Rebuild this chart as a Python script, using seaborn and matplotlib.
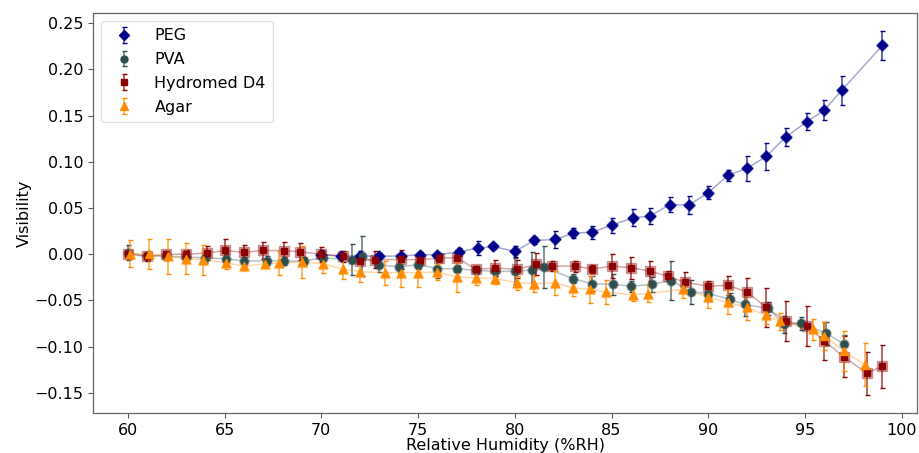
import matplotlib
matplotlib.use("Agg")
import matplotlib.pyplot as plt
import seaborn as sns
import pandas as pd

# Relative humidity (%RH), visibility and its uncertainty for each coating
peg_rh = [70, 71, 72, 73, 74.1, 75.1, 76, 77.1, 78.1, 78.9, 80, 81, 82.1, 83, 84, 85,
          86.1, 87, 88, 89, 90, 91, 92, 93, 94, 95.1, 96, 96.9, 99]
peg_vis = [-0.0005, -0.002, -0.002, -0.002, -0.002, -0.0005, -0.0005, 0.0024, 0.0067,
           0.0084, 0.003, 0.0149, 0.016, 0.0228, 0.0239, 0.0314, 0.0393, 0.0415, 0.0535,
           0.0533, 0.0666, 0.0853, 0.093, 0.106, 0.1269, 0.1435, 0.156, 0.1775, 0.226]
peg_err = [0.005, 0.003, 0.005, 0.003, 0.003, 0.003, 0.003, 0.0043, 0.0072, 0.003,
           0.0063, 0.004, 0.0096, 0.0054, 0.0069, 0.008, 0.0092, 0.0088, 0.008, 0.0099,
           0.0069, 0.0063, 0.0135, 0.0148, 0.0098, 0.0094, 0.011, 0.0157, 0.0155]

pva_rh = [60, 61, 62, 63, 64, 65.1, 66, 67.2, 68.1, 69.1, 70.1, 71.6, 72.1, 73, 74, 75,
          76, 77, 78, 79, 80, 80.9, 81.5, 83, 84, 85.1, 86, 87.1, 88.1, 89.1, 90, 91.1,
          91.9, 93.1, 93.9, 94.8, 96.1, 97]
pva_vis = [0.0016, -0.002, -0.002, -0.003, -0.004, -0.0048, -0.0074, -0.007, -0.0074,
           -0.0074, -0.004, -0.006, -0.002, -0.0113, -0.0138, -0.0113, -0.0156, -0.0156,
           -0.0175, -0.0185, -0.0185, -0.017, -0.0138, -0.0264, -0.032, -0.0325, -0.0347,
           -0.0325, -0.0285, -0.0405, -0.0425, -0.0487, -0.0544, -0.0587, -0.0758,
           -0.0749, -0.0856, -0.0971]
pva_err = [0.008, 0.004, 0.004, 0.005, 0.005, 0.005, 0.004, 0.005, 0.004, 0.004, 0.008,
           0.017, 0.022, 0.008, 0.011, 0.005, 0.01, 0.004, 0.004, 0.005, 0.014, 0.019,
           0.0226, 0.005, 0.008, 0.0115, 0.006, 0.008, 0.0215, 0.013, 0.005, 0.007,
           0.0126, 0.007, 0.009, 0.007, 0.0126, 0.01]

hyd_rh = [60, 61, 62, 63, 64.1, 65, 66, 67, 68.1, 68.9, 70, 71.1, 72, 72.8, 74.1, 75.1,
          76.1, 77, 78, 79, 80.1, 81.1, 81.9, 83.1, 84, 85, 86, 87, 87.9, 88.8, 90, 91,
          92, 93, 94, 95.1, 96, 97, 98.2, 99]
hyd_vis = [0.0, -0.0024, 0.0, 0.0, 0.0013, 0.0041, 0.002, 0.0041, 0.004, 0.0027, 0.0,
           -0.002, -0.007, -0.006, -0.0056, -0.006, -0.0041, -0.0038, -0.0163, -0.015,
           -0.0163, -0.011, -0.0128, -0.0128, -0.016, -0.0128, -0.0146, -0.0182, -0.0239,
           -0.0303, -0.0347, -0.0336, -0.0407, -0.0576, -0.0723, -0.0777, -0.0939,
           -0.111, -0.1287, -0.1215]
hyd_err = [0.004, 0.005, 0.004, 0.005, 0.008, 0.012, 0.008, 0.009, 0.009, 0.009, 0.008,
           0.006, 0.004, 0.0094, 0.01, 0.005, 0.0045, 0.0086, 0.0041, 0.0086, 0.0099,
           0.012, 0.0055, 0.006, 0.004, 0.0126, 0.012, 0.0108, 0.0054, 0.0116, 0.006,
           0.0104, 0.0154, 0.0214, 0.0212, 0.0215, 0.0209, 0.0224, 0.0233, 0.023]

agar_rh = [60.1, 61.1, 62.1, 63, 63.9, 65.1, 66, 67.1, 67.8, 69, 70.1, 71.1, 72, 73.3,
           74.1, 75, 76, 77, 78, 79, 80.1, 81, 82.1, 83, 83.9, 84.7, 86.1, 86.9, 88.7,
           90, 91, 92, 93, 93.7, 95.4, 96, 97, 98.1]
agar_vis = [0.0005, 0.0005, -0.0024, -0.0048, -0.006, -0.0092, -0.013, -0.0102, -0.0095,
            -0.0084, -0.0102, -0.016, -0.019, -0.02, -0.0199, -0.0199, -0.0192, -0.0246,
            -0.0256, -0.0264, -0.0307, -0.0318, -0.031, -0.0364, -0.038, -0.041, -0.0438,
            -0.0425, -0.0379, -0.0465, -0.0522, -0.0576, -0.0662, -0.0728, -0.0812,
            -0.0883, -0.1048, -0.1197]
agar_err = [0.0145, 0.016, 0.019, 0.017, 0.0165, 0.007, 0.0045, 0.005, 0.0133, 0.017,
            0.01, 0.011, 0.011, 0.013, 0.016, 0.0156, 0.009, 0.0158, 0.008, 0.006, 0.0075,
            0.0086, 0.0133, 0.009, 0.0144, 0.0133, 0.0068, 0.009, 0.009, 0.0115, 0.013,
            0.0133, 0.0097, 0.009, 0.0115, 0.015, 0.022, 0.0233]

labels = ["PEG", "PVA", "Hydromed D4", "Agar"]
colors = ["darkblue", "darkslategray", "darkred", "darkorange"]
markers = ["D", "o", "s", "^"]
sizes = [4.6, 5.0, 5.0, 5.6]

series = [(peg_rh, peg_vis, peg_err), (pva_rh, pva_vis, pva_err),
          (hyd_rh, hyd_vis, hyd_err), (agar_rh, agar_vis, agar_err)]

sns.set_style("ticks")
plt.rcParams["font.family"] = ["DejaVu Sans"]
plt.rcParams["font.size"] = 11.5
plt.rcParams["text.color"] = "black"
plt.rcParams["axes.labelcolor"] = "black"

fig, ax = plt.subplots(figsize=(9.2, 4.53), dpi=100)
fig.subplots_adjust(left=0.101, right=0.997, top=0.971, bottom=0.088)

for (rh, vis, err), lab, col, mk, ms in zip(series, labels, colors, markers, sizes):
    df = pd.DataFrame({"rh": rh, "vis": vis})
    # faint connecting line with soft marker halo
    sns.lineplot(data=df, x="rh", y="vis", ax=ax, color=col, alpha=0.35, lw=1.1,
                 marker=mk, markersize=ms + 1.6, markeredgecolor=col,
                 markeredgewidth=1.0, estimator=None, sort=False, legend=False)
    eb = ax.errorbar(rh, vis, yerr=err, fmt=mk, color=col, ms=ms, capsize=1.8,
                     elinewidth=1.2, capthick=1.0, label=lab)
    for bl in eb[2]:
        bl.set_alpha(0.7)

ax.set_xlim(58.2, 100.8)
ax.set_ylim(-0.172, 0.261)
ax.set_xticks([60, 65, 70, 75, 80, 85, 90, 95, 100])
ax.set_yticks([-0.15, -0.10, -0.05, 0.0, 0.05, 0.10, 0.15, 0.20, 0.25])
ax.set_xlabel("Relative Humidity (%RH)", fontsize=11.5, labelpad=0)
ax.set_ylabel("Visibility", fontsize=11.5, labelpad=2)
ax.tick_params(labelsize=11.5, length=3.5, width=0.8, color="0.35",
               labelcolor="black")
for sp in ax.spines.values():
    sp.set_color("0.4")
    sp.set_linewidth(0.9)

ax.legend(loc="upper left", fontsize=11.5, frameon=True, edgecolor="0.85",
          borderpad=0.45, handletextpad=0.9, labelspacing=0.55)

fig.savefig("out.png", dpi=100)
